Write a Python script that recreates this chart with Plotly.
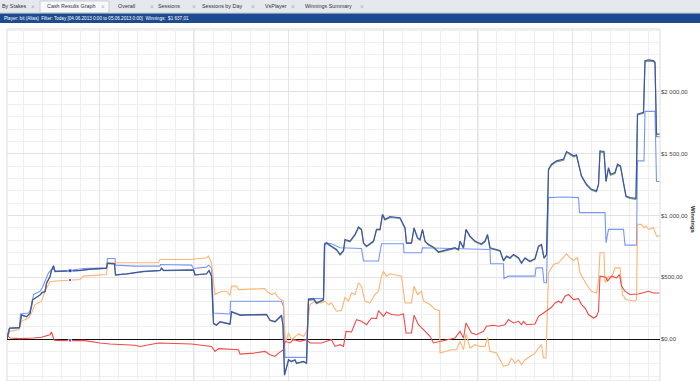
import plotly.graph_objects as go

# ---------------- data (hands vs. cumulative winnings in $) ----------------
navy_h = [0,1,5,25,29,39,46,51,59,66,70,76,79,86,89,93,96,126,146,166,186,199,201,215,217,239,273,306,309,313,373,376,399,404,409,
          413,419,426,446,449,466,506,519,526,536,543,549,552,555,563,569,576,579,593,599,603,613,619,626,633,635,639,649,659,666,673,
          676,686,696,703,709,713,719,733,739,746,751,756,766,786,796,799,809,814,821,826,831,836,843,853,863,873,883,896,903,906,913,
          918,926,936,943,949,956,961,966,976,986,993,999,1006,1013,1023,1029,1036,1046,1056,1063,1069,1074,1079,1083,1089,1099,1113,
          1119,1126,1133,1139,1145,1149,1159,1169,1179,1183,1186,1194,1198,1203,1207,1216,1221,1227,1233,1238,1246,1258,1261,1273,1276,
          1283,1293,1296,1299,1305]
navy_v = [0,19,87,92,195,181,208,317,338,357,376,384,452,506,555,593,547,552,555,566,568,574,614,609,520,528,547,555,574,555,560,520,528,555,511,
          127,114,141,122,222,195,203,200,154,141,168,192,111,-290,-168,-181,-168,-195,-181,-195,319,327,292,306,319,766,779,752,725,685,717,
          806,793,847,907,888,779,752,793,888,888,1009,969,990,982,901,779,779,901,820,806,888,793,766,744,706,717,725,739,725,793,739,
          888,833,793,779,771,793,847,739,725,717,636,671,658,685,658,617,658,630,652,752,766,658,685,1375,1415,1442,1456,
          1518,1502,1483,1491,1375,1321,1253,1212,1199,1253,1523,1518,1280,1388,1334,1348,1415,1402,1266,1158,1145,1139,1821,1835,2254,
          2260,2254,2241,1659,1659]
green_v = [0,17,85,90,193,179,206,315,336,355,374,382,450,504,553,591,545,550,553,564,566,572,612,607,518,526,545,553,572,553,558,518,526,553,509,
           123,110,137,118,218,191,199,196,150,137,164,188,107,-294,-172,-185,-172,-199,-185,-199,313,321,286,300,313,760,773,746,719,679,711,
           800,787,841,901,882,773,746,787,882,882,1003,963,984,976,895,773,773,895,814,800,882,787,760,738,700,711,719,733,719,787,733,
           882,827,787,773,765,787,841,733,719,711,630,665,652,679,652,611,652,624,646,746,760,652,679,1367,1407,1434,1448,
           1510,1494,1475,1483,1367,1313,1245,1204,1191,1245,1515,1510,1272,1380,1326,1340,1407,1394,1258,1150,1137,1131,1813,1827,2246,
           2252,2246,2233,1637,1637]

light_h = [0,1,5,25,27,43,49,53,66,71,76,83,89,93,96,126,153,186,199,201,216,217,256,306,307,369,373,399,403,409,413,446,447,516,549,553,
           556,599,603,633,636,649,666,709,713,743,749,776,793,794,829,831,899,966,967,993,994,1003,1056,1058,1071,1074,1079,1083,1113,
           1143,1145,1196,1198,1203,1233,1236,1259,1261,1274,1276,1296,1299,1305]
light_v = [0,35,89,95,203,211,252,360,387,419,468,536,563,571,549,555,571,576,576,652,652,598,590,590,603,598,571,582,598,576,211,203,306,306,306,265,
           -149,-149,327,327,779,771,739,733,631,631,771,771,771,698,698,739,733,725,609,609,490,509,509,576,576,455,455,1145,1150,
           1145,1023,1023,779,888,888,760,760,1442,1442,1843,1843,1275,1275]

orange_h = [0,1,6,23,29,43,49,56,69,76,83,86,93,126,146,153,186,199,201,236,256,303,306,366,399,403,409,416,429,439,446,449,459,463,516,
            519,529,536,543,553,557,563,569,576,583,593,599,606,616,629,636,643,649,659,669,676,683,689,696,703,709,716,726,736,743,749,
            753,759,766,789,796,809,814,821,829,833,846,856,865,866,876,889,899,906,913,918,926,936,946,956,961,966,979,993,1003,1009,
            1016,1023,1029,1036,1046,1056,1063,1069,1073,1078,1083,1093,1103,1113,1119,1126,1133,1141,1146,1159,1169,1179,1183,1186,
            1194,1196,1203,1209,1216,1226,1231,1238,1256,1259,1261,1269,1274,1278,1283,1293,1299,1305]
orange_v = [0,22,62,76,143,170,211,279,306,387,441,463,468,476,482,509,517,522,617,617,622,617,644,644,658,671,617,360,387,387,354,428,428,400,409,
            387,360,373,333,306,-32,49,-5,22,41,22,57,279,306,292,306,279,292,225,230,338,306,373,360,455,428,306,292,360,387,509,
            549,509,528,509,292,292,428,360,387,306,279,238,230,-114,-100,-87,-87,-19,-87,41,-73,-46,-60,-60,14,-100,-114,-222,-208,-154,
            -195,-168,-208,-168,-141,-114,-73,-46,-154,-154,536,603,617,658,690,658,636,658,536,441,387,373,468,698,
            698,455,509,495,576,576,360,319,306,319,928,928,901,915,888,901,833,833]

red_h = [0,1,6,26,53,69,86,89,94,96,126,153,186,206,256,266,303,369,409,416,423,463,466,493,516,526,536,543,553,556,566,573,586,599,606,
         629,639,649,656,666,673,678,689,699,709,719,729,739,743,753,759,769,783,793,798,809,814,823,833,846,853,866,879,896,906,913,
         918,929,939,953,959,973,983,996,1003,1013,1023,1029,1033,1039,1056,1063,1073,1083,1089,1096,1103,1109,1116,1123,1133,1143,
         1149,1156,1163,1173,1179,1183,1186,1198,1201,1209,1219,1225,1229,1236,1246,1263,1273,1283,1293,1305]
red_v = [0,30,8,3,8,14,35,57,-5,-11,-14,-11,-32,-41,-51,-60,-32,-41,-60,-100,-78,-87,-122,-114,-100,-127,-141,-114,-87,-19,-32,-5,-19,-5,-32,
         -32,-19,-5,-60,-46,-60,62,57,157,143,116,170,165,230,184,219,198,192,203,49,49,192,116,76,22,-32,-19,-5,8,62,8,
         130,49,35,62,103,111,103,116,157,130,143,116,143,116,122,184,211,238,257,292,306,292,346,360,319,327,
         279,252,198,170,184,225,509,501,468,509,495,522,428,387,360,365,373,387,373,373]

marker_h = [126, 126, 126]
marker_v = [553, 478, -12]

y_tick_vals = [0, 500, 1000, 1500, 2000]
y_tick_text = ["$0,00", "$500,00", "$1 000,00", "$1 500,00", "$2 000,00"]

tabs = ["By Stakes", "Cash Results Graph", "Overall", "Sessions", "Sessions by Day", "VsPlayer", "Winnings Summary"]
header_text = "Player: bit (Alias)  Filter: Today [04.06.2013 0:00 to 05.06.2013 0:00]  Winnings:  $1 637,01"

# ---------------- figure ----------------
W, H = 700, 381
L, R, T, B = 7, 40, 29, 0
PW, PH = W - L - R, H - T - B
UI_FONT = "Liberation Sans, Arial, sans-serif"


def px(x):
    return (x - L) / PW


def py(y):
    return (H - B - y) / PH


fig = go.Figure()
fig.add_trace(go.Scatter(x=light_h, y=light_v, mode="lines", line=dict(color="#7896fb", width=1.1), hoverinfo="skip"))
fig.add_trace(go.Scatter(x=orange_h, y=orange_v, mode="lines", line=dict(color="#ffb471", width=1.1), hoverinfo="skip"))
fig.add_trace(go.Scatter(x=red_h, y=red_v, mode="lines", line=dict(color="#f24848", width=1.1), hoverinfo="skip"))
fig.add_trace(go.Scatter(x=navy_h, y=green_v, mode="lines", line=dict(color="#6e9e52", width=1.1), hoverinfo="skip"))
fig.add_trace(go.Scatter(x=navy_h, y=navy_v, mode="lines", line=dict(color="#3d4fb8", width=1.2), opacity=0.95, hoverinfo="skip"))
fig.add_trace(go.Scatter(x=marker_h, y=marker_v, mode="markers",
                         marker=dict(symbol="square", size=[4, 3, 3], color="#1a2fe0"), hoverinfo="skip"))

fig.update_layout(
    width=W, height=H, margin=dict(l=L, r=R, t=T, b=B),
    paper_bgcolor="white", plot_bgcolor="white", showlegend=False,
    font=dict(family=UI_FONT),
)
fig.update_xaxes(
    range=[0, 1306], showticklabels=False, ticks="", zeroline=False, showline=False,
    tick0=184.6, dtick=189.3, showgrid=True, gridcolor="#e4e4e4", gridwidth=1,
    minor=dict(tick0=33.4, dtick=37.86, showgrid=True, gridcolor="#efefef", gridwidth=1),
)
fig.update_yaxes(
    range=[-340, 2510], side="right", tickvals=y_tick_vals, ticktext=y_tick_text,
    tickfont=dict(size=6, color="#444444", family=UI_FONT), ticks="",
    showgrid=True, gridcolor="#e2e2e2", gridwidth=1,
    minor=dict(dtick=100, showgrid=True, gridcolor="#efefef", gridwidth=1),
    zeroline=True, zerolinecolor="#111111", zerolinewidth=1.4, showline=False,
)

shapes = []
shapes.append(dict(type="rect", xref="paper", yref="paper", x0=0, x1=1, y0=0, y1=1,
                   line=dict(color="#dcdcdc", width=1), fillcolor="rgba(0,0,0,0)", layer="below"))
shapes.append(dict(type="rect", xref="paper", yref="paper", x0=px(0), x1=px(W), y0=py(13), y1=py(0),
                   line=dict(width=0), fillcolor="#e5e8ec"))
shapes.append(dict(type="rect", xref="paper", yref="paper", x0=px(40), x1=px(109), y0=py(13), y1=py(1),
                   line=dict(color="#c9ced6", width=1), fillcolor="#f6f8fa"))
shapes.append(dict(type="line", xref="paper", yref="paper", x0=px(0), x1=px(W), y0=py(13), y1=py(13),
                   line=dict(color="#c5cad1", width=1)))
shapes.append(dict(type="rect", xref="paper", yref="paper", x0=px(0), x1=px(W), y0=py(23), y1=py(13.5),
                   line=dict(width=0), fillcolor="#1d4b8f"))
fig.update_layout(shapes=shapes)

ann = []
tab_x = [0, 45, 116, 156, 200, 263, 303]
close_x = [33, 103, 152, 194, 253, 293, 362]
for t, x in zip(tabs, tab_x):
    ann.append(dict(text=t, x=px(x), y=py(6.5), xref="paper", yref="paper", xanchor="left", yanchor="middle",
                    showarrow=False, font=dict(size=5.4, color="#333333", family=UI_FONT)))
for x in close_x:
    ann.append(dict(text="×", x=px(x), y=py(6.5), xref="paper", yref="paper", xanchor="center", yanchor="middle",
                    showarrow=False, font=dict(size=6.5, color="#aab0b6", family=UI_FONT)))
ann.append(dict(text=header_text, x=px(2), y=py(18.3), xref="paper", yref="paper", xanchor="left", yanchor="middle",
                showarrow=False, font=dict(size=4.6, color="white", family=UI_FONT)))
ann.append(dict(text="<b>Winnings</b>", x=px(693), y=py(220), xref="paper", yref="paper", xanchor="center",
                yanchor="middle", textangle=90, showarrow=False,
                font=dict(size=6, color="#222222", family=UI_FONT)))
fig.update_layout(annotations=ann)

fig.write_html("out.html")
